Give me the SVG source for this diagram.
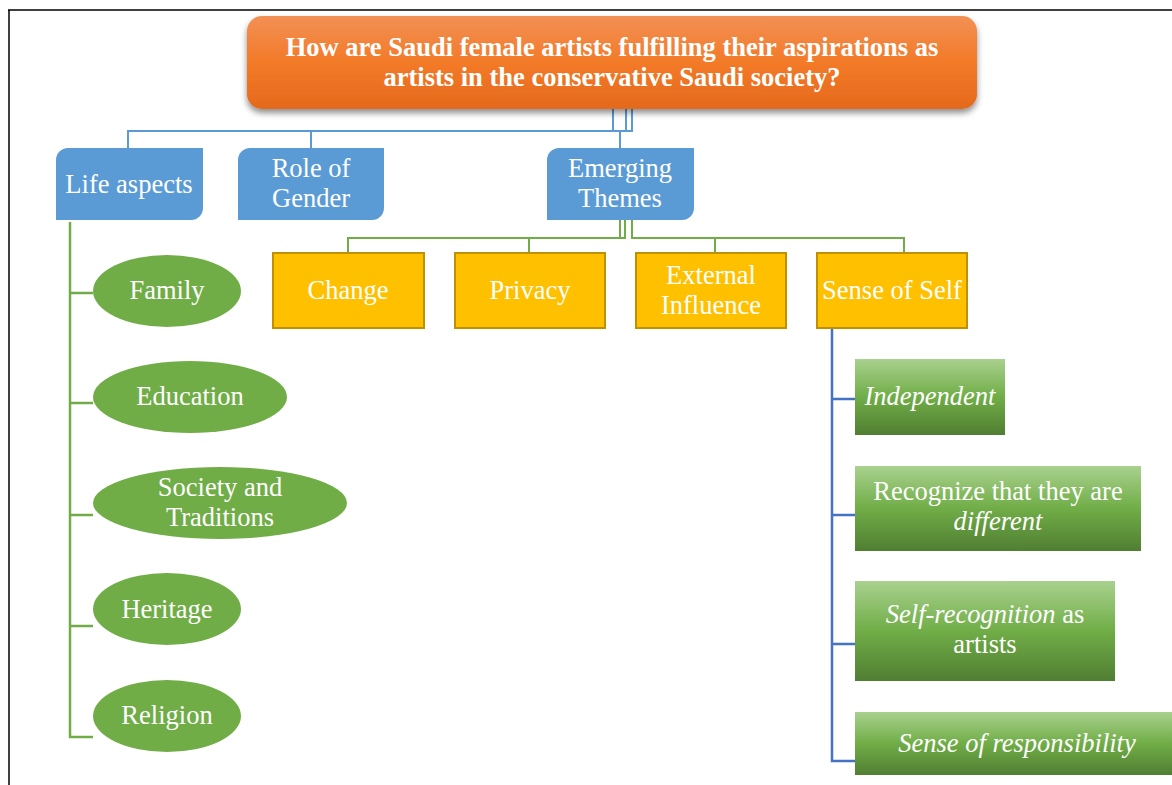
<svg xmlns="http://www.w3.org/2000/svg" width="1172" height="785" viewBox="0 0 1172 785">
<style>
text{font-family:"Liberation Serif","Times New Roman",serif;fill:#fff;font-size:26.5px;text-anchor:middle}
.title{font-weight:bold}
.it{font-style:italic}
.blue{fill:#5B9BD5}
.yel{fill:#FFC000;stroke:#BF9000;stroke-width:2}
.ell{fill:#70AD47}
.gbox{fill:url(#gg)}
.cb{fill:none;stroke:#5B9BD5;stroke-width:2}
.cg{fill:none;stroke:#70AD47;stroke-width:2}
.cl{fill:none;stroke:#70AD47;stroke-width:2.5}
.cr{fill:none;stroke:#4472C4;stroke-width:2.5}
</style>
<defs>
<linearGradient id="og" x1="0" y1="0" x2="0" y2="1">
<stop offset="0" stop-color="#F29055"/>
<stop offset="0.5" stop-color="#F37A28"/>
<stop offset="1" stop-color="#E5691C"/>
</linearGradient>
<linearGradient id="gg" x1="0" y1="0" x2="0" y2="1">
<stop offset="0" stop-color="#A9D18E"/>
<stop offset="0.5" stop-color="#70AD47"/>
<stop offset="1" stop-color="#507E32"/>
</linearGradient>
<filter id="sh" x="-5%" y="-20%" width="110%" height="150%">
<feGaussianBlur in="SourceAlpha" stdDeviation="3"/>
<feOffset dy="4" result="b"/>
<feFlood flood-color="#000" flood-opacity="0.45"/>
<feComposite in2="b" operator="in"/>
<feMerge><feMergeNode/><feMergeNode in="SourceGraphic"/></feMerge>
</filter>
</defs>
<rect width="1172" height="785" fill="#fff"/>
<g id="frame" stroke="#000" stroke-width="1.5" fill="none">
<line x1="8" y1="10" x2="1172" y2="10"/>
<line x1="9" y1="10" x2="9" y2="785"/>
</g>
<g id="connectors">
<path class="cb" d="M613,109 V131 H128 V148"/>
<path class="cb" d="M626,109 V131 H311 V148"/>
<path class="cb" d="M632,109 V131 H620 V148"/>
<path class="cg" d="M620,220 V238 H348 V252"/>
<path class="cg" d="M625,220 V238 H529 V252"/>
<path class="cg" d="M632,220 V238 H904 V252"/>
<path class="cg" d="M632,238 H715 V252"/>
<path class="cl" d="M70,222 V737 H93"/>
<path class="cl" d="M70,293 H93 M70,403 H93 M70,515 H93 M70,626 H93"/>
<path class="cr" d="M832,328 V761 H855"/>
<path class="cr" d="M832,399 H855 M832,515 H855 M832,644 H855"/>
</g>
<g id="title">
<rect x="247" y="16" width="730" height="93" rx="15" fill="url(#og)" filter="url(#sh)"/>
<text class="title" x="612" y="56">How are Saudi female artists fulfilling their aspirations as</text>
<text class="title" x="612" y="86">artists in the conservative Saudi society?</text>
</g>
<g id="life-aspects">
<path class="blue" d="M68,148 H203 V208 A12,12 0 0 1 191,220 H56 V160 A12,12 0 0 1 68,148 Z"/>
<text x="129" y="193">Life aspects</text>
</g>
<g id="role-of-gender">
<path class="blue" d="M250,148 H384 V208 A12,12 0 0 1 372,220 H238 V160 A12,12 0 0 1 250,148 Z"/>
<text x="311" y="177">Role of</text>
<text x="311" y="207">Gender</text>
</g>
<g id="emerging-themes">
<path class="blue" d="M559,148 H694 V208 A12,12 0 0 1 682,220 H547 V160 A12,12 0 0 1 559,148 Z"/>
<text x="620" y="177">Emerging</text>
<text x="620" y="207">Themes</text>
</g>
<g id="change">
<rect class="yel" x="273" y="253" width="151" height="75"/>
<text x="348" y="299">Change</text>
</g>
<g id="privacy">
<rect class="yel" x="455" y="253" width="150" height="75"/>
<text x="530" y="299">Privacy</text>
</g>
<g id="external-influence">
<rect class="yel" x="636" y="253" width="150" height="75"/>
<text x="711" y="284">External</text>
<text x="711" y="314">Influence</text>
</g>
<g id="sense-of-self">
<rect class="yel" x="817" y="253" width="150" height="75"/>
<text x="892" y="299">Sense of Self</text>
</g>
<g id="family">
<ellipse class="ell" cx="167" cy="291" rx="74" ry="36"/>
<text x="167" y="299">Family</text>
</g>
<g id="education">
<ellipse class="ell" cx="190" cy="397" rx="97" ry="36"/>
<text x="190" y="405">Education</text>
</g>
<g id="society-traditions">
<ellipse class="ell" cx="220" cy="503" rx="127" ry="36"/>
<text x="220" y="496">Society and</text>
<text x="220" y="526">Traditions</text>
</g>
<g id="heritage">
<ellipse class="ell" cx="167" cy="609" rx="74" ry="36"/>
<text x="167" y="618">Heritage</text>
</g>
<g id="religion">
<ellipse class="ell" cx="167" cy="716" rx="74" ry="36"/>
<text x="167" y="724">Religion</text>
</g>
<g id="independent">
<rect class="gbox" x="855" y="359" width="150" height="76"/>
<text class="it" x="930" y="405">Independent</text>
</g>
<g id="recognize-different">
<rect class="gbox" x="855" y="466" width="286" height="85"/>
<text x="998" y="500">Recognize that they are</text>
<text class="it" x="998" y="530">different</text>
</g>
<g id="self-recognition">
<rect class="gbox" x="855" y="581" width="260" height="100"/>
<text x="985" y="623"><tspan font-style="italic">Self-recognition</tspan> as</text>
<text x="985" y="653">artists</text>
</g>
<g id="sense-of-responsibility">
<rect class="gbox" x="855" y="712" width="324" height="63"/>
<text class="it" x="1017" y="752">Sense of responsibility</text>
</g>
</svg>
